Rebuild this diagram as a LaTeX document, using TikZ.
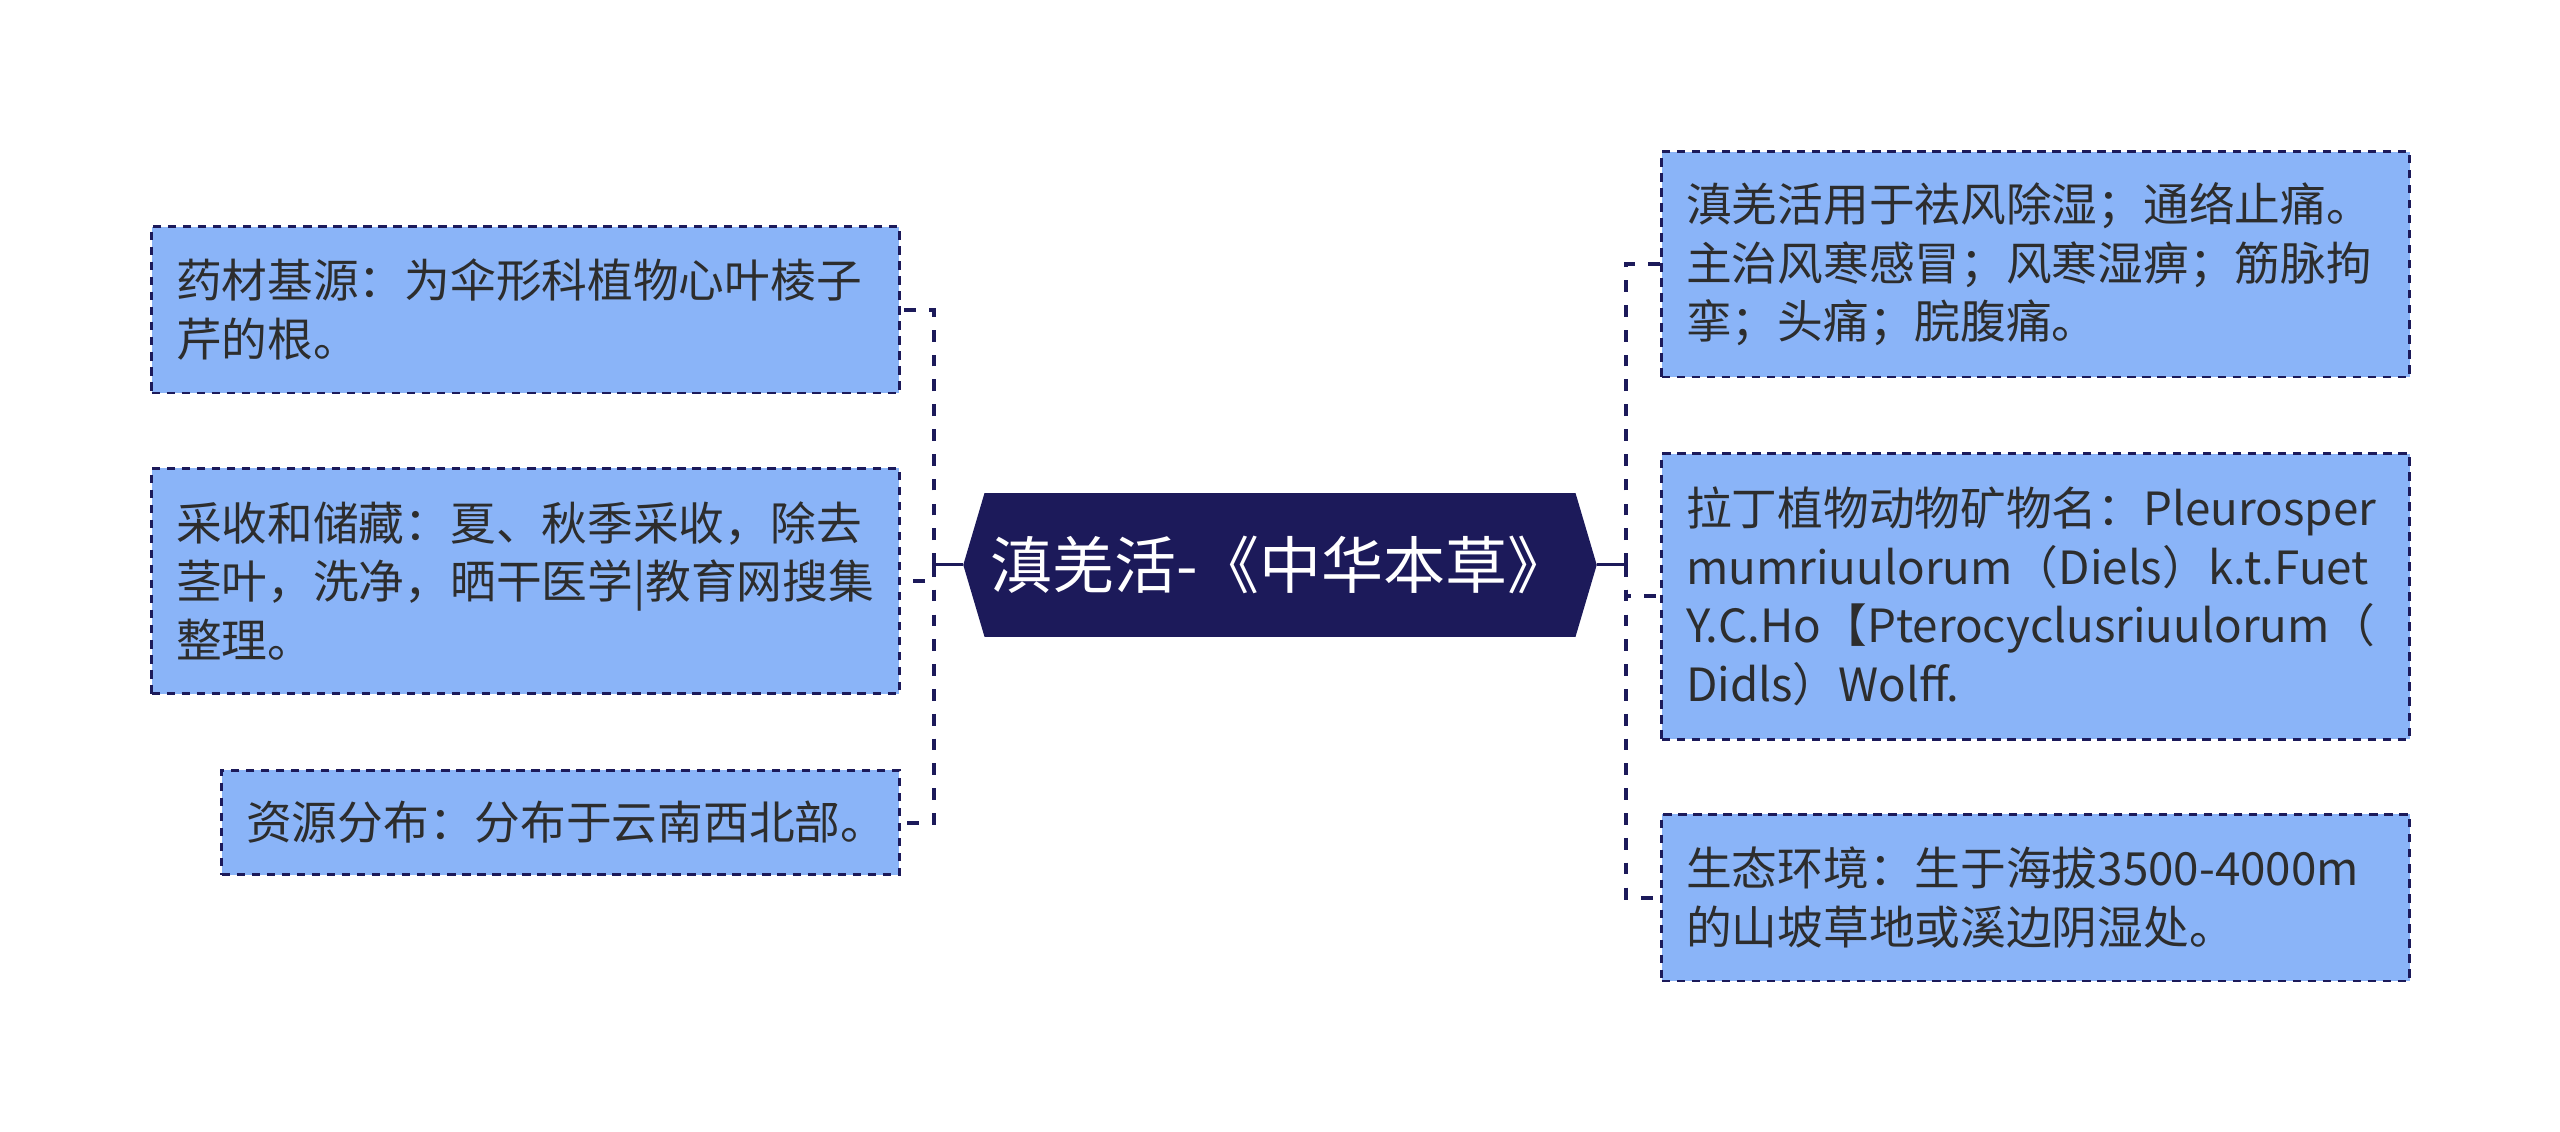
\documentclass[tikz,border=0pt]{standalone}
\usepackage{fontspec}
\setmainfont{Noto Sans CJK SC}
\definecolor{navy}{HTML}{1C1A5A}
\definecolor{boxfill}{HTML}{8AB4F8}
\definecolor{txt}{HTML}{2D2D2D}
\begin{document}
\begin{tikzpicture}[x=0.5pt,y=-0.5pt,
  leaf/.style={draw=navy, line width=0.8pt, dash pattern=on 2.6pt off 2pt, fill=boxfill, text=txt,
    font=\fontsize{14}{18}\selectfont, align=left, text width=214pt, inner xsep=7.5pt, inner ysep=0pt,
    anchor=north west},
  link/.style={draw=navy, line width=1.2pt, dash pattern=on 3.6pt off 4pt},
  stem/.style={draw=navy, line width=0.9pt},
]
\useasboundingbox (0,0) rectangle (1568,693);
% central topic
\fill[navy] (590,346) -- (603,302) -- (965,302) -- (978,346) -- (965,390) -- (603,390) -- cycle;
\node[text=white, font=\fontsize{19}{22}\selectfont, inner sep=0pt] (c) at (784,346) {滇羌活-《中华本草》};
\coordinate (cw) at (590,346);
\coordinate (ce) at (978,346);
\coordinate (jl) at (572,346);
\coordinate (jr) at (996,346);
% leaves
\node[leaf, minimum height=51pt] (l1) at (92,138) {药材基源：为伞形科植物心叶棱子\\芹的根。};
\node[leaf, minimum height=69pt] (l2) at (92,286) {采收和储藏：夏、秋季采收，除去\\茎叶，洗净，晒干医学|教育网搜集\\整理。};
\node[leaf, minimum height=32pt, text width=192.5pt] (l3) at (135,471) {资源分布：分布于云南西北部。};
\node[leaf, minimum height=69pt] (r1) at (1017,92) {滇羌活用于祛风除湿；通络止痛。\\主治风寒感冒；风寒湿痹；筋脉拘\\挛；头痛；脘腹痛。};
\node[leaf, minimum height=87.5pt] (r2) at (1017,277) {拉丁植物动物矿物名：Pleurosper\\mumriuulorum（Diels）k.t.Fuet\\Y.C.Ho【Pterocyclusriuulorum（\\Didls）Wolff.};
\node[leaf, minimum height=51pt] (r3) at (1017,498) {生态环境：生于海拔3500-4000m\\的山坡草地或溪边阴湿处。};
% connectors
\draw[stem] (cw) -- (jl);
\draw[stem] (ce) -- (jr);
\draw[link] (jl) |- (l1.east);
\draw[link] (jl) |- (l2.east);
\draw[link] (jl) |- (l3.east);
\draw[link] (jr) |- (r1.west);
\draw[link] (jr) |- (r2.west);
\draw[link] (jr) |- (r3.west);
\end{tikzpicture}
\end{document}
